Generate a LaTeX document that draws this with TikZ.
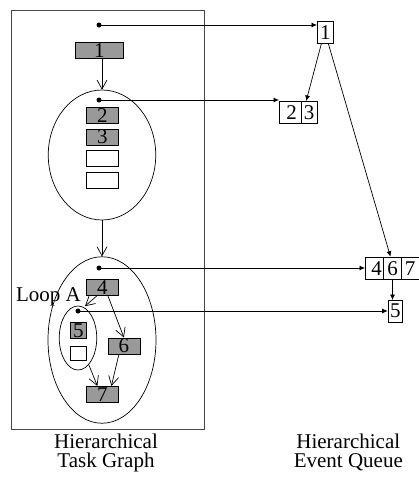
\documentclass[tikz,border=0pt]{standalone}
\usepackage{fontspec}
\setmainfont{Liberation Serif}
\usetikzlibrary{arrows.meta,shapes.geometric,calc}
\definecolor{taskgray}{RGB}{153,153,153}
\definecolor{framegray}{RGB}{70,70,70}
\tikzset{
  box/.style={draw, line width=0.8pt, inner sep=0pt, minimum width=32pt, minimum height=16pt, anchor=north west},
  task/.style={box, fill=taskgray},
  emptybox/.style={box, fill=white},
  cell/.style={draw, line width=0.7pt, inner sep=0pt, anchor=north west},
  ell/.style={draw, ellipse, line width=0.7pt, inner sep=0pt},
  dotnode/.style={circle, fill=black, inner sep=0pt, minimum size=5pt},
  tarrow/.style={line width=0.7pt, -{Straight Barb[length=9pt,width=10pt,line width=0.7pt]}},
  qarrow/.style={line width=0.7pt, -{Latex[length=5.5pt,width=5pt]}},
  lbl/.style={inner sep=0pt, font=\fontsize{21}{19}\selectfont}
}
\begin{document}
\begin{tikzpicture}[x=1pt,y=-1pt, font=\fontsize{21}{19}\selectfont]
\useasboundingbox (0,0) rectangle (419,477);
% frame
\draw[framegray, line width=1pt] (11,10) rectangle (204,429);
% ellipses
\node[ell, minimum width=107.5pt, minimum height=130pt] (e1) at (102,155) {};
\node[ell, minimum width=108pt, minimum height=166.5pt] (e2) at (102,340) {};
\node[ell, minimum width=37.5pt, minimum height=64pt] (e3) at (78,338) {};
% task boxes
\node[task, minimum width=48pt] (t1) at (75,42) {};
\node[lbl] at (t1.center) {1};
\node[task] (t2) at (86,107) {};
\node[lbl] at (t2.center) {2};
\node[task] (t3) at (86,128.5) {};
\node[lbl] at (t3.center) {3};
\node[emptybox] (t3a) at (86,150) {};
\node[emptybox] (t3b) at (86,171.5) {};
\node[task] (t4) at (86,279) {};
\node[lbl] at (t4.center) {4};
\node[task, minimum width=16pt] (t5) at (70,322) {};
\node[lbl] at (t5.center) {5};
\node[emptybox, minimum width=16pt, minimum height=14pt] (t5a) at (70,345.5) {};
\node[task] (t6) at (107.5,337.5) {};
\node[lbl] at (t6.center) {6};
\node[task] (t7) at (86,386) {};
\node[lbl] at (t7.center) {7};
\node[lbl, anchor=base east] (loopa) at (81,301) {Loop A};
% dots
\node[dotnode] (d1) at (99,25) {};
\node[dotnode] (d2) at (99,100) {};
\node[dotnode] (d3) at (99,268) {};
\node[dotnode] (d4) at (78,311) {};
% queue cells
\node[cell, minimum width=16pt, minimum height=22pt] (q1) at (317,21) {};
\node[lbl] at (q1.center) {1};
\node[cell, minimum width=21.7pt, minimum height=22pt] (c2) at (279,101) {};
\node[lbl] at ($(c2.center)+(1.5,0)$) {2};
\node[cell, minimum width=16.3pt, minimum height=22pt] (c3) at (300.7,101) {};
\node[lbl] at (c3.center) {3};
\node[cell, minimum width=18.3pt, minimum height=22.3pt] (c4) at (365,256.7) {};
\node[lbl] at ($(c4.center)+(2,0)$) {4};
\node[cell, minimum width=17.7pt, minimum height=22.3pt] (c6) at (383.3,256.7) {};
\node[lbl] at (c6.center) {6};
\node[cell, minimum width=17.5pt, minimum height=22.3pt] (c7) at (401,256.7) {};
\node[lbl] at (c7.center) {7};
\node[cell, minimum width=14.7pt, minimum height=21.7pt] (q5) at (387.7,300) {};
\node[lbl] at (q5.center) {5};
% task arrows
\draw[tarrow] (e1.north |- t1.south) -- (e1.north);
\draw[tarrow] (e1.south) -- (e2.north);
\draw[tarrow] ($(t4.south)+(-5.5,0)$) -- ($(e3.north)+(7,0.5)$);
\draw[tarrow] ($(t4.south)+(5.5,0)$) -- (t6.north);
\draw[tarrow] (e3.-68) -- ($(t7.north)+(-5,0)$);
\draw[tarrow] ($(t6.south)+(-5,0)$) -- ($(t7.north)+(9,0)$);
% queue arrows
\draw[qarrow] (d1.center) -- (d1 -| q1.west);
\draw[qarrow] (d2.center) -- (d2 -| c2.west);
\draw[qarrow] (d3.center) -- (d3 -| c4.west);
\draw[qarrow] (d4.center) -- (d4 -| q5.west);
\draw[qarrow] ($(q1.south)+(-4,0)$) -- ($(c3.north)+(-3,0)$);
\draw[qarrow] ($(q1.south)+(3,0)$) -- ($(c6.north)+(-2,0)$);
\draw[qarrow] (c6.south) -- (q5.north -| c6.south);
% captions
\node[lbl, align=center, anchor=base] (cap1) at (106,467.3) {Hierarchical\\Task Graph};
\node[lbl, align=center, anchor=base] (cap2) at (348.3,467.3) {Hierarchical\\Event Queue};
\end{tikzpicture}
\end{document}
